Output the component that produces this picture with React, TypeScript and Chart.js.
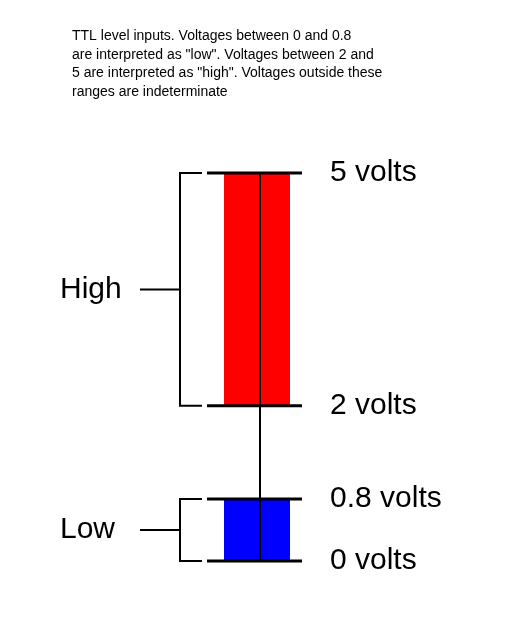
import { useEffect, useRef } from 'react';
import { Chart, registerables } from 'chart.js';

Chart.register(...registerables);

const categories = ['TTL'];
const highRange: [number, number] = [2, 5];
const lowRange: [number, number] = [0, 0.8];
const levelValues = [5, 2, 0.8, 0];
const levelLabels = ['5 volts', '2 volts', '0.8 volts', '0 volts'];
const titleLines = [
  'TTL level inputs. Voltages between 0 and 0.8',
  'are interpreted as "low". Voltages between 2 and',
  '5 are interpreted as "high". Voltages outside these',
  'ranges are indeterminate',
];

const diagram = {
  id: 'diagram',
  afterDatasetsDraw(chart: Chart) {
    const { ctx, chartArea } = chart;
    const y = chart.scales.y;
    const cx = 260;
    ctx.save();
    ctx.strokeStyle = '#000';
    ctx.fillStyle = '#000';
    ctx.lineWidth = 2;
    // centre line
    ctx.beginPath();
    ctx.moveTo(cx, y.getPixelForValue(5));
    ctx.lineTo(cx, y.getPixelForValue(0));
    ctx.stroke();
    ctx.lineWidth = 3;
    ctx.font = '30px Arial, "Liberation Sans", sans-serif';
    ctx.textBaseline = 'middle';
    levelValues.forEach((v, i) => {
      const py = y.getPixelForValue(v);
      ctx.beginPath();
      ctx.moveTo(chartArea.left - 17, py);
      ctx.lineTo(chartArea.right + 12, py);
      ctx.stroke();
      ctx.fillText(levelLabels[i], 330, py);
    });
    // brackets
    const bracket = (a: number, b: number, label: string) => {
      const t = y.getPixelForValue(a);
      const bt = y.getPixelForValue(b);
      const m = (t + bt) / 2;
      ctx.lineWidth = 2;
      ctx.beginPath();
      ctx.moveTo(202, t); ctx.lineTo(180, t); ctx.lineTo(180, bt); ctx.lineTo(202, bt);
      ctx.moveTo(180, m); ctx.lineTo(140, m);
      ctx.stroke();
      ctx.fillText(label, 60, m);
    };
    bracket(5, 2, 'High');
    bracket(0.8, 0, 'Low');
    // title
    ctx.font = '14px Arial, "Liberation Sans", sans-serif';
    ctx.textBaseline = 'alphabetic';
    titleLines.forEach((l, i) => ctx.fillText(l, 72, 40 + i * 18.5));
    ctx.restore();
  },
};

export default function App() {
  const canvasRef = useRef<HTMLCanvasElement>(null);
  useEffect(() => {
    if (!canvasRef.current) return;
    const chart = new Chart(canvasRef.current, {
      type: 'bar',
      data: {
        labels: categories,
        datasets: [
          { data: [highRange], backgroundColor: '#ff0000', grouped: false, barPercentage: 1, categoryPercentage: 1 },
          { data: [lowRange], backgroundColor: '#0000ff', grouped: false, barPercentage: 1, categoryPercentage: 1 },
        ],
      },
      options: {
        animation: false,
        responsive: false,
        layout: { padding: { top: 173, bottom: 63, left: 224, right: 230 } },
        plugins: { legend: { display: false }, tooltip: { enabled: false } },
        scales: {
          x: { display: false },
          y: { display: false, min: 0, max: 5 },
        },
      },
      plugins: [diagram],
    } as never);
    return () => chart.destroy();
  }, []);
  return (
    <div style={{ position: 'absolute', left: 0, top: 0, width: 520, height: 624, background: '#fff' }}>
      <canvas ref={canvasRef} width={520} height={624} />
    </div>
  );
}
